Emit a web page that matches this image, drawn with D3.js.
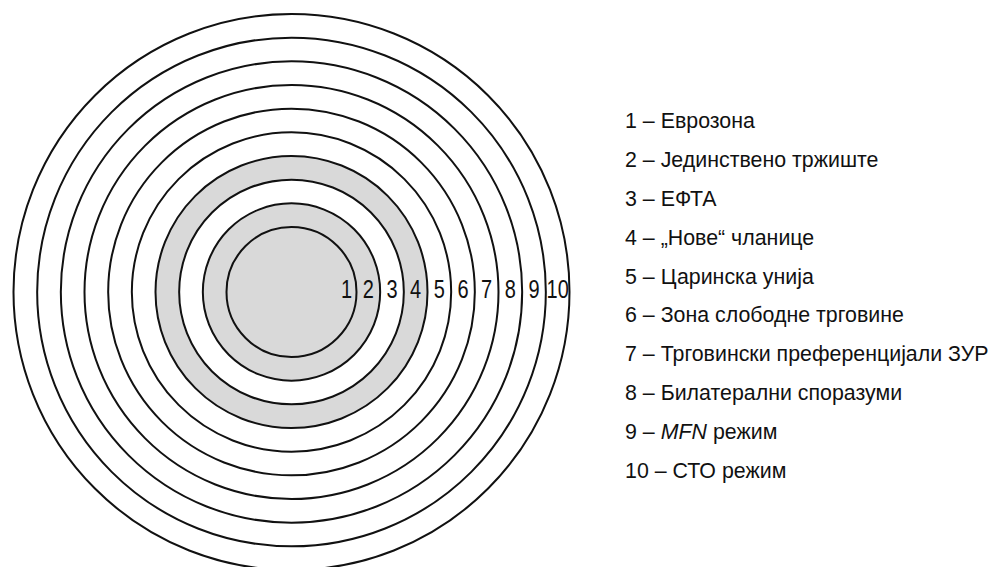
<!DOCTYPE html>
<html>
<head>
<meta charset="utf-8">
<script src="https://cdn.jsdelivr.net/npm/d3@7"></script>
<style>
  body { margin: 0; background: #fff; }
  svg text { font-family: "Liberation Sans Narrow", "Arial Narrow", "Liberation Sans", sans-serif; fill: #111; }
</style>
</head>
<body>
<svg id="chart" width="1000" height="567"></svg>
<script>
  // levels, innermost first
  const levelIds = [1, 2, 3, 4, 5, 6, 7, 8, 9, 10];
  const levelNames = [
    "Еврозона",
    "Јединствено тржиште",
    "ЕФТА",
    "„Нове“ чланице",
    "Царинска унија",
    "Зона слободне трговине",
    "Трговински преференцијали ЗУР",
    "Билатерални споразуми",
    "MFN режим",
    "СТО режим"
  ];
  const levelShaded = [true, true, false, true, false, false, false, false, false, false];

  const svg = d3.select("#chart");
  const cx = 291.5, cy = 292;

  // ring index -> outer radius
  const r = d3.scaleLinear().domain([1, 10]).range([65, 278]);

  const levels = levelIds.map((id, i) => ({
    id: id,
    name: levelNames[i],
    shaded: levelShaded[i]
  }));

  // ============================================================
  // Rings (outermost drawn first)
  // ============================================================
  const rings = svg.append("g").attr("class", "rings");
  rings.selectAll("circle")
    .data(levels.slice().reverse())
    .enter()
    .append("circle")
    .attr("cx", cx)
    .attr("cy", cy)
    .attr("r", d => r(d.id))
    .attr("fill", d => d.shaded ? "#d9d9d9" : "#fff")
    .attr("stroke", "#111")
    .attr("stroke-width", 2);

  // numbers along the horizontal radius (condensed like the original)
  rings.selectAll("text.num")
    .data(levels)
    .enter()
    .append("text")
    .attr("class", "num")
    .attr("transform", d => {
      const x = d.id === 1 ? cx + r(1) - 10 : cx + (r(d.id - 1) + r(d.id)) / 2;
      return `translate(${x},298) scale(0.8,1)`;
    })
    .attr("text-anchor", "middle")
    .attr("font-size", 25)
    .text(d => d.id);

  // ============================================================
  // Legend
  // ============================================================
  const ly = d3.scaleLinear().domain([1, 10]).range([128, 478]);
  const legend = svg.append("g").attr("class", "legend");

  const rows = legend.selectAll("text")
    .data(levels)
    .enter()
    .append("text")
    .attr("transform", d => `translate(625,${ly(d.id)}) scale(0.95,1)`)
    .attr("font-size", 22.5);

  rows.append("tspan").text(d => d.id + " – ");
  rows.each(function(d) {
    const t = d3.select(this);
    if (d.name.startsWith("MFN")) {
      t.append("tspan").attr("font-style", "italic").text("MFN");
      t.append("tspan").text(d.name.slice(3));
    } else {
      t.append("tspan").text(d.name);
    }
  });
</script>
</body>
</html>
